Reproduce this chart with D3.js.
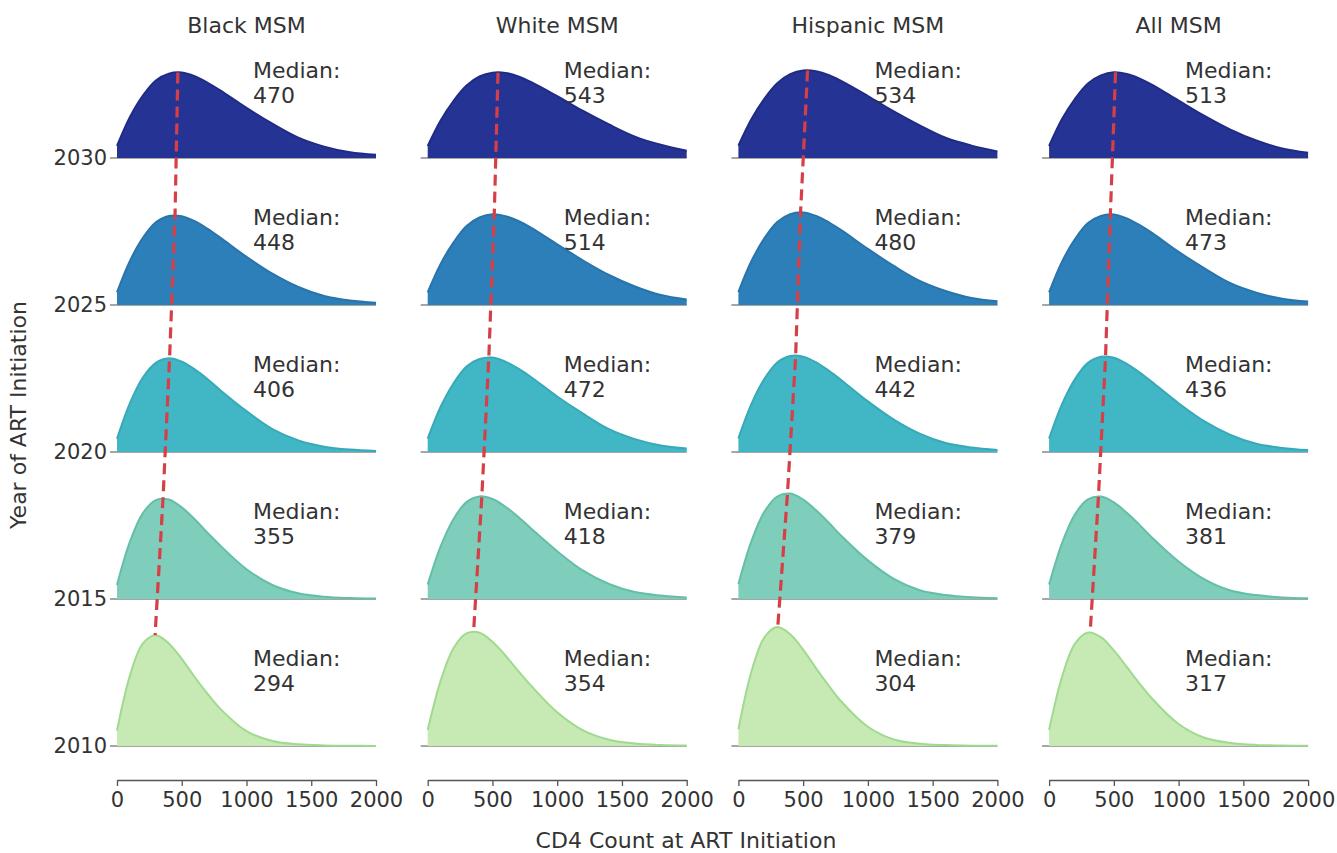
<!DOCTYPE html>
<html>
<head>
<meta charset="utf-8">
<script src="https://cdn.jsdelivr.net/npm/d3@7"></script>
<style>
  body { margin: 0; background: #fff; }
  text { font-family: 'DejaVu Sans', sans-serif; fill: #333; }
</style>
</head>
<body>
<svg id="chart" width="1337" height="853"></svg>
<script>
// DATA
const groups = ['Black MSM', 'White MSM', 'Hispanic MSM', 'All MSM'];
const years = [2030, 2025, 2020, 2015, 2010];
const yearTicks = [2010, 2015, 2020, 2025, 2030];
const cd4Ticks = [0, 500, 1000, 1500, 2000];
const cd4Grid = [0, 100, 200, 300, 400, 500, 600, 700, 800, 1000, 1200, 1400, 1600, 1800, 2000];

// medians per group, rows 2030 -> 2010
const mediansBlack = [470, 448, 406, 355, 294];
const mediansWhite = [543, 514, 472, 418, 354];
const mediansHispanic = [534, 480, 442, 379, 304];
const mediansAll = [513, 473, 436, 381, 317];

// density (scaled) read along cd4Grid, rows 2030 -> 2010
const densBlack = [
    [12.0, 41.0, 62.4, 77.5, 84.3, 85.5, 81.8, 75.2, 67.4, 50.1, 34.3, 20.4, 11.4, 5.7, 3.2],
    [12.6, 44.1, 67.1, 82.6, 89.0, 88.8, 83.8, 76.1, 67.1, 48.2, 31.3, 18.0, 9.0, 4.4, 2.2],
    [13.2, 48.9, 74.5, 89.2, 93.8, 90.4, 82.6, 72.8, 61.6, 40.9, 23.0, 11.6, 5.3, 2.4, 1.1],
    [14.1, 57.3, 85.9, 98.9, 99.5, 91.6, 79.8, 66.1, 53.1, 29.8, 14.0, 5.7, 2.2, 0.9, 0.4],
    [15.5, 70.4, 102.6, 110.8, 102.6, 87.1, 69.0, 52.1, 36.9, 14.9, 5.0, 1.7, 0.6, 0.3, 0.1]
];
const densWhite = [
    [12.0, 37.5, 57.2, 72.4, 81.5, 85.3, 85.1, 81.5, 75.8, 61.8, 47.0, 33.5, 21.4, 13.2, 7.2],
    [12.7, 41.1, 62.6, 78.9, 87.5, 90.7, 88.9, 84.0, 77.2, 60.7, 44.5, 30.0, 18.5, 10.0, 5.6],
    [13.3, 45.2, 68.8, 85.5, 93.0, 94.4, 90.4, 83.3, 74.8, 55.5, 38.3, 22.8, 12.9, 6.6, 3.5],
    [14.4, 52.6, 80.1, 96.9, 102.6, 100.0, 92.3, 82.0, 70.3, 47.8, 28.3, 15.0, 6.9, 3.4, 1.5],
    [16.1, 65.2, 98.0, 112.6, 113.3, 104.2, 90.5, 74.9, 60.1, 33.7, 15.6, 6.3, 2.5, 1.0, 0.5]
];
const densHispanic = [
    [12.3, 38.7, 59.2, 74.8, 83.8, 87.5, 86.7, 82.8, 76.6, 62.0, 46.6, 32.6, 20.2, 12.4, 6.6],
    [13.0, 43.7, 66.7, 83.1, 90.9, 92.6, 89.1, 82.5, 74.4, 56.1, 39.1, 24.1, 14.0, 7.0, 3.8],
    [13.6, 47.9, 72.9, 89.5, 96.0, 95.4, 89.7, 81.1, 71.3, 50.6, 32.4, 18.4, 9.0, 4.5, 2.0],
    [14.8, 57.6, 87.1, 102.5, 105.5, 99.4, 88.7, 76.0, 62.5, 38.6, 20.1, 8.8, 4.0, 1.7, 0.8],
    [16.7, 74.0, 108.5, 118.9, 111.7, 96.4, 77.7, 60.0, 43.7, 19.2, 6.5, 2.3, 0.9, 0.3, 0.2]
];
const densAll = [
    [12.0, 38.9, 59.2, 74.6, 82.7, 85.7, 84.0, 79.4, 72.9, 57.4, 42.1, 28.4, 17.5, 9.5, 5.2],
    [12.7, 43.3, 65.9, 81.9, 89.1, 90.5, 86.6, 79.8, 71.6, 53.1, 36.7, 21.8, 12.4, 6.3, 3.4],
    [13.4, 47.8, 72.9, 89.1, 95.2, 94.2, 88.1, 79.4, 69.4, 48.8, 30.6, 17.2, 8.3, 4.1, 1.9],
    [14.4, 55.9, 84.7, 99.6, 102.5, 96.6, 86.2, 73.9, 60.8, 37.5, 19.6, 8.5, 3.9, 1.6, 0.7],
    [16.0, 69.2, 102.3, 113.4, 108.9, 95.6, 79.1, 62.2, 46.7, 22.0, 8.2, 3.1, 1.1, 0.5, 0.2]
];

const medians = [mediansBlack, mediansWhite, mediansHispanic, mediansAll];
const densities = [densBlack, densWhite, densHispanic, densAll];

// colors per row, 2030 -> 2010
const fillColors = ['#253494', '#2c7fb8', '#41b6c4', '#7fcdbb', '#c7e9b4'];
const lineColors = ['#1f2b85', '#2874ab', '#38a9b8', '#64bfa8', '#a0da8f'];
const medianColor = '#d63f45';
const axisColor = '#555';

const svg = d3.select('#chart');

const panelLeft = 117;
const panelStep = 310.7;
const panelWidth = 259;

const yYear = d3.scaleLinear().domain([2010, 2030]).range([746, 158]);
const hScale = d3.scaleLinear().domain([0, 100]).range([0, 100]);
const xAxisY = 780;

groups.forEach(function(name, gi) {
    const x0 = panelLeft + gi * panelStep;
    const x = d3.scaleLinear().domain([0, 2000]).range([x0, x0 + panelWidth]);
    const g = svg.append('g');

    // title
    g.append('text')
        .attr('x', x(1000))
        .attr('y', 33)
        .attr('text-anchor', 'middle')
        .style('font-size', '22px')
        .text(name);

    years.forEach(function(year, ri) {
        const base = yYear(year);
        const vals = densities[gi][ri];
        const pts = cd4Grid.map((c, k) => [c, vals[k]]);

        // baseline + left tick
        g.append('line')
            .attr('x1', x0 - 7).attr('x2', x(2000))
            .attr('y1', base).attr('y2', base)
            .attr('stroke', '#888')
            .attr('stroke-width', 1.5);

        const area = d3.area()
            .x(d => x(d[0]))
            .y0(base)
            .y1(d => base - hScale(d[1]))
            .curve(d3.curveCatmullRom.alpha(0.5));

        const line = d3.line()
            .x(d => x(d[0]))
            .y(d => base - hScale(d[1]))
            .curve(d3.curveCatmullRom.alpha(0.5));

        g.append('path')
            .attr('d', area(pts))
            .attr('fill', fillColors[ri]);

        g.append('path')
            .attr('d', line(pts))
            .attr('fill', 'none')
            .attr('stroke', lineColors[ri])
            .attr('stroke-width', 2);

        // median label
        g.append('text')
            .attr('x', x(1050))
            .attr('y', base - 80)
            .style('font-size', '22px')
            .text('Median:');
        g.append('text')
            .attr('x', x(1050))
            .attr('y', base - 55)
            .style('font-size', '22px')
            .text(medians[gi][ri]);
    });

    // dashed median line through peaks
    const medLine = d3.line()
        .x(d => x(d.m))
        .y(d => yYear(d.year) - hScale(d.peak));
    const medPts = years.map((year, ri) => ({
        year: year,
        m: medians[gi][ri],
        peak: d3.max(densities[gi][ri])
    }));
    g.append('path')
        .attr('d', medLine(medPts))
        .attr('fill', 'none')
        .attr('stroke', medianColor)
        .attr('stroke-width', 3.2)
        .attr('stroke-dasharray', '11,6');

    // x axis
    const ax = g.append('g')
        .attr('transform', 'translate(0,' + xAxisY + ')')
        .call(d3.axisBottom(x)
            .tickValues(cd4Ticks)
            .tickFormat(d3.format('d'))
            .tickSize(6)
            .tickSizeOuter(0)
            .tickPadding(6));
    ax.select('.domain').attr('stroke', axisColor).attr('stroke-width', 1.3);
    ax.selectAll('.tick line').attr('stroke', axisColor).attr('stroke-width', 1.3);
    ax.selectAll('.tick text')
        .style('font-size', '21px')
        .style('font-family', "'DejaVu Sans', sans-serif")
        .attr('fill', '#333');
});

// y tick labels (first panel only)
svg.append('g')
    .selectAll('text')
    .data(yearTicks)
    .enter()
    .append('text')
    .attr('x', panelLeft - 10)
    .attr('y', d => yYear(d))
    .attr('dy', '0.35em')
    .attr('text-anchor', 'end')
    .style('font-size', '21px')
    .text(d => d);

// axis titles
svg.append('text')
    .attr('x', 686)
    .attr('y', 848)
    .attr('text-anchor', 'middle')
    .style('font-size', '22px')
    .text('CD4 Count at ART Initiation');

svg.append('text')
    .attr('transform', 'translate(26,415) rotate(-90)')
    .attr('text-anchor', 'middle')
    .style('font-size', '22px')
    .text('Year of ART Initiation');
</script>
</body>
</html>
